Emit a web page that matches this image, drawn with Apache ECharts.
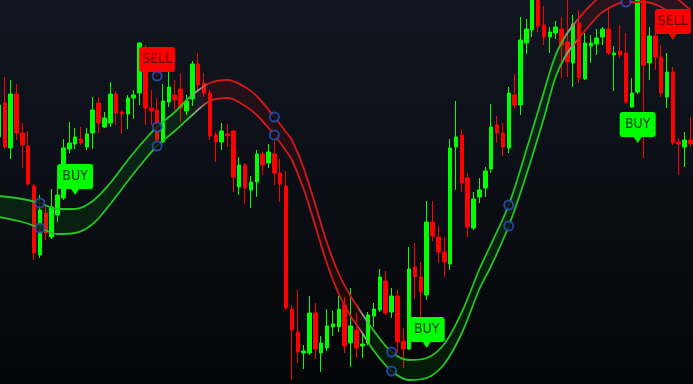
<!DOCTYPE html>
<html><head><meta charset="utf-8">
<script src="https://cdn.jsdelivr.net/npm/echarts@6/dist/echarts.min.js"></script>
<style>
html,body{margin:0;padding:0;overflow:hidden;width:693px;height:384px;}
body{position:relative;background:linear-gradient(180deg,#121620 0%,#0b0e15 50%,#040507 100%);}
#c{position:absolute;left:-4px;top:0;width:698px;height:384px;}
</style>
</head><body><div id="c"></div>
<script>
// ---- candle data (price units) ----
const openV = [247,281,236,290,251,238,198,129,171,147, 169,186,235,240,245,237,251,281,257,261,
  290,272,270,286,291,327,276,274,242,282, 289,295,273,285,320,301,291,249,242,250,
  253,197,219,194,202,230,221,230,211,198, 75,52,31,31,71,31,36,57,57,79,
  41,54,38,41,68,74,103,72,88,43, 35,117,107,89,162,147,132,120,237,249,
  206,156,187,196,215,259,251,236,289,279, 341,354,389,359,347,351,355,342,321,361,
  305,338,340,347,355,329,333,331,277,292, 389,321,348,327,287,312,242,237,244];
const closeV = [279,237,290,251,239,200,131,174,151,177, 189,236,241,247,241,250,274,261,266,290,
  271,270,286,289,341,276,273,244,283,297, 284,276,283,320,299,291,248,242,253,248,
  207,219,196,202,230,219,232,211,200,76, 54,32,33,71,35,41,58,60,75,38,
  58,36,40,69,75,107,71,88,42,35, 115,107,92,162,148,132,122,236,247,201,
  157,185,194,213,257,251,237,291,279,344, 355,389,358,347,352,357,339,322,360,306,
  341,341,346,355,331,331,329,282,291,389, 319,348,327,291,312,241,240,244,240];
const lowV = [244,235,225,244,216,198,124,126,144,145, 162,184,231,235,239,234,235,251,256,257,
  259,250,255,265,279,259,259,238,241,277, 274,262,269,278,292,287,244,222,234,237,
  192,189,180,176,187,209,216,199,182,74, 4,21,15,29,25,12,33,48,52,31,
  17,26,26,39,57,72,69,66,31,16, 34,85,65,84,143,121,107,114,194,192,
  147,154,181,187,211,241,228,231,275,269, 330,347,352,339,331,345,306,307,297,301,
  304,321,329,339,329,293,326,280,276,290, 226,304,314,287,276,239,209,217,237];
const highV = [284,307,304,300,261,253,200,189,179,195, 204,245,262,256,257,256,287,287,272,302,
  293,274,289,294,342,339,294,286,300,312, 304,311,289,323,331,311,294,252,261,260,
  254,227,221,208,234,232,240,243,225,213, 79,94,39,88,81,48,75,73,88,87,
  96,71,52,72,81,115,113,96,94,56, 137,141,122,183,183,158,147,245,283,255,
  211,192,206,217,280,268,261,297,310,367, 365,399,399,378,357,363,367,384,369,374,
  351,349,355,357,377,338,359,351,306,399, 399,357,357,339,331,317,246,252,267];

// ---- band (read at selected bars) ----
const bandIdx   = [0,4,7,10,13,16,19,22,25,27, 30,33,36,39,42,44,47,49,50,52, 54,56,58,60,62,64,67,70,73,76, 79,82,84,87,90,93,95,97,99,101, 103,107,110,113,116,118];
const bandUpper = [188,185,181,175,175,183,201,224,245,257, 272,289,301,304,297,288,267,252,244,216, 179,141,110,88,70,53,32,24,26,40, 72,115,140,179,234,292,329,351,366,379, 389,401,402,396,384,374];
const bandLower = [167,162,156,150,151,160,180,203,225,238, 253,269,283,286,278,269,249,233,224,195, 158,120,90,68,51,33,13,4,6,20, 51,95,118,158,209,266,307,331,346,360, 372,382,382,377,364,352];

// trend: starts up, flips at these bar ranges
const trendFlipFrom = [32, 61, 96];
const trendFlipTo   = [36, 63.5, 99];

// markers
const circleIdx = [7, 27, 47, 67, 87, 107];
const extraCircleIdx = [27];
const extraCircleVal = [308];
const buyIdx = [13, 73, 109];
const buyVal = [189, 36, 241];
const sellIdx = [27, 115];
const sellVal = [306, 344];

// ---- build ----
const N = openV.length;
const CW = 698, H = 384;
const BW = 5.86;
const GRID_RIGHT = CW - N * BW;
const pxOf = i => (i + 0.5) * BW;

const cats = openV.map((_, i) => String(i));
const candles = openV.map((o, i) => [o, closeV[i], lowV[i], highV[i]]);
// band rows as [value, barIndex] (value first so stacking runs on the y dimension)
const lowerRows = bandIdx.map((b, k) => [bandLower[k], b]);
const widthRows = bandIdx.map((b, k) => [bandUpper[k] - bandLower[k], b]);

function grad(upC, dnC, midC) {
  const stops = [];
  let cur = upC, nxt = dnC;
  stops.push({offset: 0, color: cur});
  trendFlipFrom.forEach((f, k) => {
    const a = Math.max(0, Math.min(1, pxOf(f) / CW));
    const b = Math.max(0, Math.min(1, pxOf(trendFlipTo[k]) / CW));
    stops.push({offset: a, color: cur});
    stops.push({offset: (a + b) / 2, color: midC});
    stops.push({offset: b, color: nxt});
    const t = cur; cur = nxt; nxt = t;
  });
  stops.push({offset: 1, color: cur});
  return {type: 'linear', x: 0, y: 0, x2: CW, y2: 0, global: true, colorStops: stops};
}
const lineGrad = grad('#24c424', '#d01a1a', '#a0a0a0');
const fillGrad = grad('rgba(0,255,0,0.12)', 'rgba(255,0,0,0.13)', 'rgba(150,150,150,0.12)');

const bandVal = (arr, i) => arr[bandIdx.indexOf(i)];
const circles = [];
circleIdx.forEach(i => { circles.push([i, bandVal(bandUpper, i)]); circles.push([i, bandVal(bandLower, i)]); });
extraCircleIdx.forEach((i, k) => circles.push([i, extraCircleVal[k]]));

const bubblePath = 'path://M3,0H33Q36,0,36,3V22Q36,25,33,25H22L18,31L14,25H3Q0,25,0,22V3Q0,0,3,0Z';
const labelFont = '"Liberation Sans Narrow","DejaVu Sans Condensed","Roboto Condensed",sans-serif';
function bubbleSeries(name, idx, val, bg, fg) {
  return {
    type: 'scatter', name, z: 5, silent: true,
    symbol: bubblePath, symbolSize: [36, 31], symbolOffset: [0, '-50%'],
    itemStyle: {color: bg, opacity: 1},
    label: {show: true, position: 'inside', offset: [0, -3], formatter: name,
      color: fg, fontSize: 14, fontFamily: labelFont},
    data: idx.map((i, k) => [i, val[k]])
  };
}

const chart = echarts.init(document.getElementById('c'), null, {renderer: 'canvas'});
chart.setOption({
  animation: false,
  backgroundColor: 'transparent',
  grid: {left: 0, right: GRID_RIGHT, top: 0, bottom: 0, containLabel: false},
  xAxis: [
    {type: 'category', data: cats, show: false, boundaryGap: true},
    {type: 'value', min: -0.5, max: N - 0.5, show: false, splitLine: {show: false}}
  ],
  yAxis: {type: 'value', min: 0, max: H, show: false, splitLine: {show: false}},
  series: [
    {
      type: 'candlestick', z: 2, barWidth: 4,
      itemStyle: {color: '#00ff00', color0: '#ff0000', borderColor: '#00ff00', borderColor0: '#ff0000', borderWidth: 1},
      data: candles
    },
    {
      type: 'line', name: 'lower', z: 3, xAxisIndex: 1, stack: 'band', smooth: 0.35,
      encode: {x: 1, y: 0},
      showSymbol: false, symbol: 'none', silent: true,
      lineStyle: {width: 1.8, color: lineGrad},
      data: lowerRows
    },
    {
      type: 'line', name: 'upper', z: 3, xAxisIndex: 1, stack: 'band', smooth: 0.35,
      encode: {x: 1, y: 0},
      showSymbol: false, symbol: 'none', silent: true,
      lineStyle: {width: 1.8, color: lineGrad},
      areaStyle: {color: fillGrad},
      data: widthRows
    },
    bubbleSeries('BUY', buyIdx, buyVal, '#00ff00', '#0a3a0a'),
    bubbleSeries('SELL', sellIdx, sellVal, '#ff0000', '#5a0000'),
    {
      type: 'scatter', z: 6, silent: true, symbol: 'circle', symbolSize: 9,
      itemStyle: {color: '#0b0f1a', borderColor: '#2a52bc', borderWidth: 2},
      data: circles
    }
  ]
});
</script>
</body></html>
